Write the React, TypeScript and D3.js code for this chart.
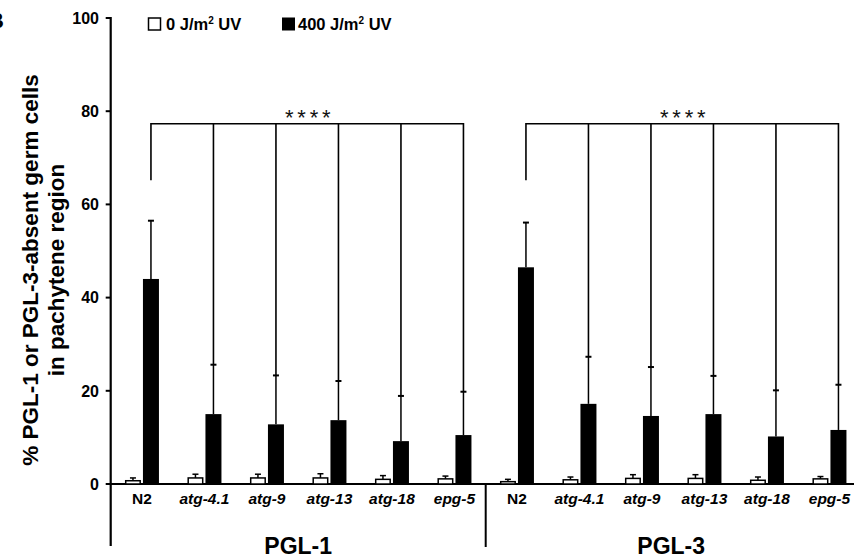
import React from 'react';
import * as d3 from 'd3';

const categories = ['N2', 'atg-4.1', 'atg-9', 'atg-13', 'atg-18', 'epg-5'];
const groups = ['PGL-1', 'PGL-3'];
const pgl1Uv0 = [0.7, 1.3, 1.3, 1.3, 1.0, 1.1];
const pgl1Uv0Err = [0.6, 0.8, 0.8, 0.9, 0.8, 0.6];
const pgl1Uv400 = [44.0, 15.0, 12.8, 13.7, 9.2, 10.5];
const pgl1Uv400Err = [12.5, 10.6, 10.5, 8.4, 9.7, 9.3];
const pgl3Uv0 = [0.5, 0.9, 1.2, 1.2, 0.8, 1.1];
const pgl3Uv0Err = [0.5, 0.6, 0.8, 0.8, 0.7, 0.5];
const pgl3Uv400 = [46.5, 17.2, 14.6, 15.0, 10.2, 11.6];
const pgl3Uv400Err = [9.6, 10.1, 10.5, 8.2, 9.9, 9.7];
const yTicks = [0, 20, 40, 60, 80, 100];
const significance = '* * * *';
const bracketValue = 77.3;
const controlDropValue = 65.2;

const W = 854;
const H = 558;
const FONT = "Arial, 'Liberation Sans', Helvetica, sans-serif";

type Row = { group: string; cat: string; key: string; v0: number; e0: number; v4: number; e4: number };

const rows: Row[] = [];
groups.forEach((g, gi) => {
  categories.forEach((c, ci) => {
    rows.push({
      group: g,
      cat: c,
      key: g + '|' + c,
      v0: gi === 0 ? pgl1Uv0[ci] : pgl3Uv0[ci],
      e0: gi === 0 ? pgl1Uv0Err[ci] : pgl3Uv0Err[ci],
      v4: gi === 0 ? pgl1Uv400[ci] : pgl3Uv400[ci],
      e4: gi === 0 ? pgl1Uv400Err[ci] : pgl3Uv400Err[ci],
    });
  });
});

export default function App() {
  const axisX = 110.7;
  const x = d3.scaleBand<string>().domain(rows.map((r) => r.key)).range([axisX, axisX + 750]).padding(0);
  const xSub = d3.scaleBand<string>().domain(['0', '400']).range([-17, 17]).paddingInner(1 / 9);
  const y = d3.scaleLinear().domain([0, 100]).range([484, 18]);
  const bw = xSub.bandwidth();
  const cx = (key: string) => (x(key) as number) + x.bandwidth() / 2;
  const blackCenter = (key: string) => cx(key) + (xSub('400') as number) + bw / 2;
  const whiteCenter = (key: string) => cx(key) + (xSub('0') as number) + bw / 2;
  const cap = 3;

  const groupStart = (g: string) => x(g + '|' + categories[0]) as number;
  const groupEnd = (g: string) => (x(g + '|' + categories[categories.length - 1]) as number) + x.bandwidth();

  return (
    <div style={{ position: 'absolute', left: 0, top: 0 }}>
      <svg width={W} height={H} style={{ display: 'block', background: '#fff' }} fontFamily={FONT}>
        {/* panel letter, cropped as in the source figure */}
        <text x={-12} y={28} fontSize={22} fontWeight="bold">B</text>

        {/* Y axis title */}
        <g transform={`translate(38, 270) rotate(-90)`}>
          <text textAnchor="middle" fontSize={22.5} fontWeight="bold">% PGL-1 or PGL-3-absent germ cells</text>
        </g>
        <g transform={`translate(64, 270) rotate(-90)`}>
          <text textAnchor="middle" fontSize={22.5} fontWeight="bold">in pachytene region</text>
        </g>

        {/* Y axis */}
        <line x1={axisX} x2={axisX} y1={y(100) - 1} y2={546} stroke="#000" strokeWidth={2.2} />
        {yTicks.map((t) => (
          <g key={t}>
            <line x1={axisX - 5} x2={axisX} y1={y(t)} y2={y(t)} stroke="#000" strokeWidth={2} />
            <text x={99} y={y(t)} dy="0.36em" textAnchor="end" fontSize={16} fontWeight="bold">{t}</text>
          </g>
        ))}

        {/* X axis */}
        <line x1={axisX} x2={W} y1={y(0)} y2={y(0)} stroke="#000" strokeWidth={2.2} />
        <line x1={groupEnd(groups[0])} x2={groupEnd(groups[0])} y1={y(0)} y2={547} stroke="#000" strokeWidth={2} />

        {/* bars */}
        {rows.map((r) => {
          const base = cx(r.key);
          const x0 = base + (xSub('0') as number);
          const x4 = base + (xSub('400') as number);
          const wc = whiteCenter(r.key);
          const bc = blackCenter(r.key);
          return (
            <g key={r.key}>
              <line x1={wc} x2={wc} y1={y(r.v0)} y2={y(r.v0 + r.e0)} stroke="#000" strokeWidth={1.5} />
              <line x1={wc - cap} x2={wc + cap} y1={y(r.v0 + r.e0)} y2={y(r.v0 + r.e0)} stroke="#000" strokeWidth={1.5} />
              <rect x={x0 + 0.75} y={y(r.v0)} width={bw - 1.5} height={y(0) - y(r.v0)} fill="#fff" stroke="#000" strokeWidth={1.5} />
              <line x1={bc} x2={bc} y1={y(r.v4)} y2={y(r.v4 + r.e4)} stroke="#000" strokeWidth={1.5} />
              <line x1={bc - cap} x2={bc + cap} y1={y(r.v4 + r.e4)} y2={y(r.v4 + r.e4)} stroke="#000" strokeWidth={2} />
              <rect x={x4} y={y(r.v4)} width={bw} height={y(0) - y(r.v4)} fill="#000" />
            </g>
          );
        })}

        {/* significance brackets */}
        {groups.map((g) => {
          const ctrl = rows.find((r) => r.group === g && r.cat === categories[0]) as Row;
          const muts = rows.filter((r) => r.group === g && r.cat !== categories[0]);
          const left = blackCenter(ctrl.key);
          const right = blackCenter(muts[muts.length - 1].key);
          const by = y(bracketValue);
          return (
            <g key={g}>
              <line x1={left} x2={right} y1={by} y2={by} stroke="#000" strokeWidth={1.6} />
              <line x1={left} x2={left} y1={by - 0.8} y2={y(controlDropValue)} stroke="#000" strokeWidth={1.6} />
              {muts.map((m) => (
                <line key={m.key} x1={blackCenter(m.key)} x2={blackCenter(m.key)} y1={by - 0.8} y2={y(m.v4 + m.e4)} stroke="#000" strokeWidth={1.6} />
              ))}
              <text x={(left + right) / 2} y={by + 1} textAnchor="middle" fontSize={22} letterSpacing={-1.2} fill="#111">{significance}</text>
            </g>
          );
        })}

        {/* category labels */}
        {rows.map((r) => (
          <text
            key={'l' + r.key}
            x={cx(r.key)}
            y={498}
            dy="0.36em"
            textAnchor="middle"
            fontSize={15.5}
            fontWeight="bold"
            fontStyle={r.cat === 'N2' ? 'normal' : 'italic'}
          >
            {r.cat}
          </text>
        ))}

        {/* group labels */}
        {groups.map((g) => (
          <text key={g} x={(groupStart(g) + Math.min(groupEnd(g), W + 12)) / 2 - (g === groups[1] ? 2 : 0)} y={554} textAnchor="middle" fontSize={23} fontWeight="bold">{g}</text>
        ))}

        {/* legend */}
        <rect x={148.5} y={18} width={12} height={12} fill="#fff" stroke="#000" strokeWidth={1.5} />
        <text x={166} y={29.5} fontSize={16.5} fontWeight="bold">
          0 J/m<tspan fontSize={10} dy={-6}>2</tspan><tspan dy={6}> UV</tspan>
        </text>
        <rect x={282} y={17.5} width={13} height={13} fill="#000" />
        <text x={298} y={29.5} fontSize={16.5} fontWeight="bold">
          400 J/m<tspan fontSize={10} dy={-6}>2</tspan><tspan dy={6}> UV</tspan>
        </text>
      </svg>
    </div>
  );
}
